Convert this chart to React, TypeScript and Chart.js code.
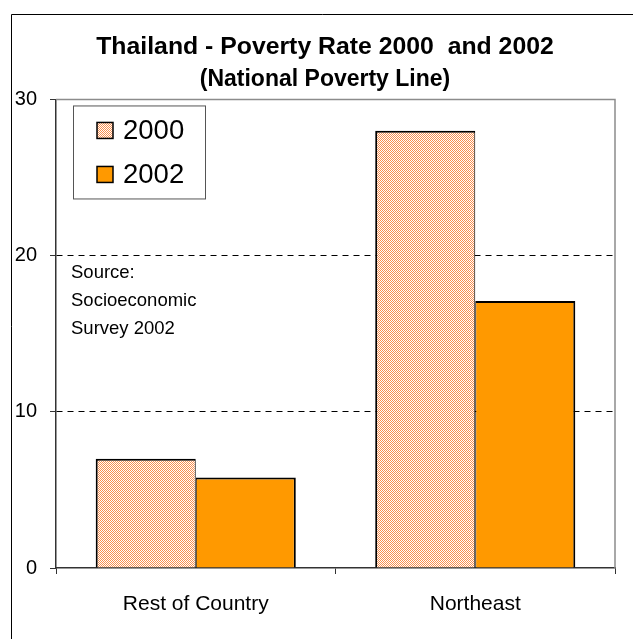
import React, { useEffect, useRef } from 'react';
import { Chart, registerables } from 'chart.js';

Chart.register(...registerables);

const categories = ['Rest of Country', 'Northeast'];
const seriesLabels = ['2000', '2002'];
const rate2000 = [7.0, 28.0];
const rate2002 = [5.8, 17.1];
const yTickValues = [0, 10, 20, 30];
const dashedGridValues = [10, 20];
const titleText = 'Thailand - Poverty Rate 2000  and 2002';
const subtitleText = '(National Poverty Line)';
const sourceLines = ['Source:', 'Socioeconomic', 'Survey 2002'];

const FONT = '"Liberation Sans", Arial, Helvetica, sans-serif';
const SOLID_ORANGE = '#ff9900';

function makeHatchPattern(): CanvasPattern | string {
  const c = document.createElement('canvas');
  c.width = 2;
  c.height = 2;
  const g = c.getContext('2d');
  if (!g) return '#fcb88a';
  g.fillStyle = '#ffffff';
  g.fillRect(0, 0, 2, 2);
  g.fillStyle = '#f98f4e';
  g.fillRect(0, 0, 1, 1);
  g.fillRect(1, 1, 1, 1);
  return g.createPattern(c, 'repeat') || '#fcb88a';
}

const framePlugin = {
  id: 'frame',
  beforeDraw(chart: any) {
    const { ctx, width, height } = chart;
    ctx.save();
    ctx.fillStyle = '#ffffff';
    ctx.fillRect(0, 0, width, height);
    ctx.strokeStyle = '#000000';
    ctx.lineWidth = 1;
    ctx.beginPath();
    ctx.moveTo(633, 14.5);
    ctx.lineTo(11.5, 14.5);
    ctx.lineTo(11.5, height);
    ctx.stroke();
    ctx.restore();
  },
  afterDraw(chart: any) {
    const { ctx, chartArea } = chart;
    const { left, right, top, bottom } = chartArea;
    ctx.save();
    // plot area border (top and right)
    ctx.strokeStyle = '#8c8c8c';
    ctx.lineWidth = 1.5;
    ctx.beginPath();
    ctx.moveTo(left, top);
    ctx.lineTo(right, top);
    ctx.lineTo(right, bottom);
    ctx.stroke();

    // source note
    ctx.fillStyle = '#000000';
    ctx.font = `18.5px ${FONT}`;
    ctx.textAlign = 'left';
    ctx.textBaseline = 'middle';
    sourceLines.forEach((line, i) => {
      ctx.fillText(line, left + 15, 273 + i * 28);
    });

    // legend
    const bx = left + 17;
    const by = top + 6;
    const bw = 132;
    const bh = 93;
    ctx.fillStyle = '#ffffff';
    ctx.fillRect(bx, by, bw, bh);
    ctx.strokeStyle = '#555555';
    ctx.lineWidth = 1;
    ctx.strokeRect(bx + 0.5, by + 0.5, bw, bh);
    chart.data.datasets.forEach((ds: any, i: number) => {
      const cy = by + 25 + i * 44;
      const mx = bx + 24;
      ctx.fillStyle = ds.backgroundColor;
      ctx.fillRect(mx, cy - 8, 16, 16);
      ctx.strokeStyle = '#000000';
      ctx.lineWidth = 1.5;
      ctx.strokeRect(mx, cy - 8, 16, 16);
      ctx.fillStyle = '#000000';
      ctx.font = `27.5px ${FONT}`;
      ctx.textAlign = 'left';
      ctx.textBaseline = 'middle';
      ctx.fillText(ds.label, mx + 26, cy + 1);
    });
    ctx.restore();
  },
};

export default function App() {
  const canvasRef = useRef<HTMLCanvasElement | null>(null);

  useEffect(() => {
    const canvas = canvasRef.current;
    if (!canvas) return;
    const hatch = makeHatchPattern();
    const chart = new Chart(canvas, {
      type: 'bar',
      data: {
        labels: categories,
        datasets: [
          {
            label: seriesLabels[0],
            data: rate2000,
            backgroundColor: hatch as any,
            borderColor: '#000000',
            borderWidth: { top: 2, left: 2, right: 1, bottom: 0 },
            borderSkipped: 'start',
            categoryPercentage: 0.716,
            barPercentage: 1,
          },
          {
            label: seriesLabels[1],
            data: rate2002,
            backgroundColor: SOLID_ORANGE,
            borderColor: '#000000',
            borderWidth: { top: 2, left: 1, right: 2, bottom: 0 },
            borderSkipped: 'start',
            categoryPercentage: 0.716,
            barPercentage: 1,
          },
        ],
      },
      options: {
        responsive: false,
        maintainAspectRatio: false,
        animation: false,
        devicePixelRatio: 1,
        layout: { padding: { top: 0, left: 12, right: 0, bottom: 0 } },
        plugins: {
          legend: { display: false },
          tooltip: { enabled: false },
          title: {
            display: true,
            text: titleText,
            color: '#000000',
            font: { family: FONT, size: 24.8, weight: 'bold' },
            padding: { top: 32, bottom: 0 },
          },
          subtitle: {
            display: true,
            text: subtitleText,
            color: '#000000',
            font: { family: FONT, size: 23, weight: 'bold' },
            padding: { top: 4.5, bottom: 5.6 },
          },
        },
        scales: {
          x: {
            ticks: {
              color: '#000000',
              font: { family: FONT, size: 21 },
              padding: 18,
            },
            grid: {
              offset: true,
              drawOnChartArea: false,
              drawTicks: true,
              tickLength: 6,
              tickColor: '#333333',
              tickWidth: 1,
            },
            border: { display: true, color: '#333333', width: 1.5 },
            afterFit: (s: any) => {
              s.height = 71;
            },
          },
          y: {
            min: 0,
            max: 30,
            afterBuildTicks: (s: any) => {
              s.ticks = yTickValues.map((v) => ({ value: v }));
            },
            ticks: {
              color: '#000000',
              font: { family: FONT, size: 20 },
              padding: 13,
            },
            grid: {
              color: (ctx: any) =>
                ctx.tick && dashedGridValues.includes(ctx.tick.value)
                  ? '#000000'
                  : 'rgba(0,0,0,0)',
              lineWidth: 1,
              drawTicks: true,
              tickLength: 6,
              tickColor: '#333333',
              tickWidth: 1,
            },
            border: { display: true, color: '#333333', width: 1.5, dash: [6, 5] },
            afterFit: (s: any) => {
              s.width = 44;
            },
          },
          yRight: {
            type: 'linear',
            position: 'right',
            display: true,
            min: 0,
            max: 30,
            ticks: { display: false },
            grid: { display: false, drawTicks: false },
            border: { display: false },
            afterFit: (s: any) => {
              s.width = 23;
            },
          },
        },
      },
      plugins: [framePlugin],
    });
    return () => chart.destroy();
  }, []);

  return (
    <div style={{ position: 'fixed', left: 0, top: 0, width: 638, height: 639, background: '#fff' }}>
      <canvas ref={canvasRef} width={638} height={639} style={{ display: 'block', width: 638, height: 639 }} />
    </div>
  );
}
